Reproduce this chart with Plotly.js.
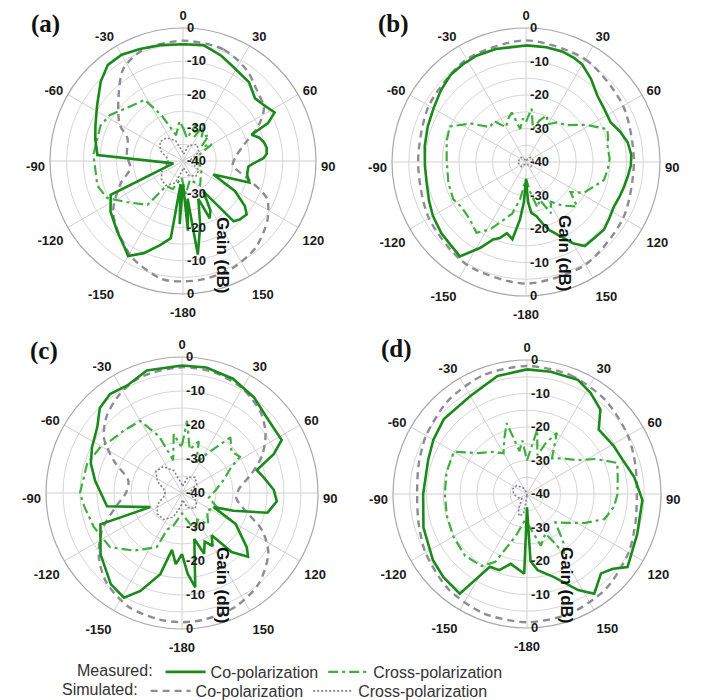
<!DOCTYPE html>
<html><head><meta charset="utf-8">
<script src="https://cdn.plot.ly/plotly-3.0.1.min.js"></script>
<style>html,body{margin:0;padding:0;background:#fff}</style>
</head><body><div id="chart" style="width:701px;height:700px"></div>
<script>
// ---------- axis labels ----------
const angleTicks = [0,30,60,90,120,150,180,210,240,270,300,330];
const angleLabels = ['0','30','60','90','120','150','-180','-150','-120','-90','-60','-30'];
const upperAngleTicks = [0,30,60,300,330];          // labels drawn by the main polar
const lowerAngleTicks = [90,120,150,180,210,240,270]; // labels drawn by a slightly lowered overlay
const ringValues = [-40,-35,-30,-25,-20,-15,-10,-5,0];
const ringLabelsUpper = ['-40','','-30','','-20','','-10','','0'];
const ringLabelsLower = ['','','-30','','-20','','-10','','0'];
const panelLabels = ['(a)','(b)','(c)','(d)'];
const radialTitle = 'Gain (dB)';
const seriesNames = ['Co-polarization','Cross-polarization'];
const legendTitles = ['Measured:','Simulated:'];

// ---------- panel (a) ----------
const aMeasCoTheta = [0,10,20,28,40,49,55,62,66,69,73,77,81,85,88,92,95,102,108,114,120,126,130,136,140,146,151,155,158,165,171,173,176,178,180,183,186,189,195,203,210,214,223,235,245,256,274,284,292,303,314,322,330,339,349];
const aMeasCoGain  = [-4.9,-4.6,-6.3,-7.9,-9.1,-11.3,-10.5,-8.8,-12,-17.9,-16,-15,-14.5,-14.7,-15.8,-18.8,-20.3,-20.3,-19,-30,-22,-17,-15,-15.5,-16.3,-29,-23,-21,-27.7,-20,-11.5,-28.6,-19,-30,-33,-21,-33,-16.5,-13.9,-9.9,-7,-8.6,-11,-13.4,-16,-37,-14.2,-12.8,-11.6,-9.2,-5.6,-3.3,-3.1,-3.9,-4.5];
const aMeasXTheta  = [0,10,20,25,30,38,45,52,60,70,90,110,130,145,160,175,185,200,214,219,234,244,254,265,274,293,302,315,328,335,345,355];
const aMeasXGain   = [-30,-33,-28,-32,-27,-31,-29,-33,-30,-35,-36,-34,-33,-31,-34,-30,-35,-31,-31,-23,-19,-14.6,-13.2,-13.5,-13,-13,-14,-17,-18.3,-25,-32,-28];
const aSimCoTheta  = [0,20,35,45,57,65,75,85,95,105,114,125,140,155,170,180,190,207,220,234,250,262,276,292,300,314,327,340];
const aSimCoGain   = [-3.8,-4.3,-6.6,-9,-11,-15,-21,-24,-25,-20,-12.4,-9,-6,-4.5,-3.9,-3.8,-3.9,-7,-10.5,-14,-20,-24,-23,-22,-18,-13,-7,-4.5];
const aSimXTheta   = [5,20,40,60,75,90,105,120,140,160,175,185,200,215,230,245,258,270,282,295,310,325,340,355];
const aSimXGain    = [-38,-35,-33.5,-34.5,-37,-38.5,-37,-34.5,-34,-35.5,-38,-37,-33,-31,-31.5,-33,-35,-35.5,-35,-32.5,-31,-31.5,-33.5,-37];

// ---------- panel (b) ----------
const bMeasCoTheta = [0,10,18,25,30,38,47,56,65,72,79,86,92,98,104,110,117,124,131,138,145,150,155,161,165,169,174,177,180,183,186,190,195,199,203,208,215,222,230,240,248,258,268,279,290,300,310,319,327,335,345];
const bMeasCoGain  = [-5.2,-5.2,-5.3,-5.8,-6.4,-8.5,-10.9,-11.8,-12.1,-10.5,-9.1,-8.5,-8.7,-9.3,-9.8,-10.2,-10.6,-10,-9.2,-9.5,-9.4,-12,-15.5,-18.5,-21,-23.5,-24.7,-28,-34.8,-28,-22.7,-16.6,-18,-16,-14.9,-11,-5.6,-6.5,-7,-7.9,-8.8,-9.7,-9.8,-9.4,-8.8,-8.1,-6.8,-5.6,-5.3,-5,-5.1];
const bMeasXTheta  = [0,6,12,18,24,30,38,48,58,68,74,79,88,95,103,110,118,124,131,140,148,154,160,166,172,180,189,195,208,215,224,235,243,255,272,285,295,305,314,322,330,338,344,350,356];
const bMeasXGain   = [-28,-24,-30,-27,-24.8,-27,-25,-23.6,-19,-13.8,-14.5,-15.2,-15,-15.5,-16.1,-18.5,-20.4,-24,-19.8,-23,-26,-23,-28,-26,-31,-35,-28.7,-24,-17.2,-14.2,-16,-16.5,-15.6,-16,-16.3,-15.5,-14.9,-20,-25,-24.5,-28,-26,-24.6,-30,-27];
const bSimCoTheta  = [0,30,60,90,120,150,180,210,240,270,300,330];
const bSimCoGain   = [-3.7,-4.6,-6.5,-7.8,-6.5,-4.6,-3.7,-4.6,-6.5,-7.8,-6.5,-4.6];
const bSimXTheta   = [0,45,90,135,180,225,270,315];
const bSimXGain    = [-39.5,-38,-37.5,-38,-39.5,-38,-37.5,-38];

// ---------- panel (c) ----------
const cMeasCoTheta = [0,11,24,37,48,62,67,73,79,88,95,103,109,114,120,130,134,140,145,150,155,160,165,172,176,180,185,190,195,203,209,218,233,249,246,260,278,288,297,308,316,324,333,344];
const cMeasCoGain  = [-2.5,-2.4,-3.2,-4.8,-6.6,-6.8,-10.7,-17,-15.6,-13,-12,-14.2,-24,-29.8,-21.8,-15.1,-13,-17.3,-24.8,-22,-24.2,-21,-26,-12,-16.2,-22,-19,-23,-15.3,-8.7,-4.8,-6,-10,-14.3,-29.8,-17.6,-14.2,-11.8,-10.3,-8.4,-5.2,-4,-4.5,-2.5];
const cMeasXTheta  = [0,4,10,18,25,33,41,50,58,63,72,85,100,112,125,140,150,160,170,180,195,202,205,220,233,249,262,270,287,300,306,318,330,338,345,352,358];
const cMeasXGain   = [-26,-18.7,-27,-24,-30,-26,-18.3,-21,-19.9,-24,-27,-30,-32,-28.9,-31,-28,-31,-28,-32,-34,-30,-28.4,-22.4,-17.9,-13.5,-12.2,-11,-10,-10.8,-12.5,-13.9,-15,-15.5,-22,-30,-22.5,-26];
const cSimCoTheta  = [0,15,30,45,55,65,75,85,95,105,115,125,140,155,170,180,190,205,220,232,245,258,270,283,295,305,315,327,340];
const cSimCoGain   = [-3,-3.3,-4.5,-7,-10,-14,-19,-23,-24,-21,-14,-9,-5,-3,-2.2,-2,-2.2,-3,-5.5,-9,-14,-20,-23.5,-23.8,-18,-12,-8.5,-5.8,-3.8];
const cSimXTheta   = [5,20,40,60,80,100,120,140,160,175,185,200,215,230,245,258,270,282,295,310,325,340,355];
const cSimXGain    = [-38,-35,-34,-35,-37.5,-37.5,-35,-34,-35.5,-38,-36,-32.5,-30.5,-30.5,-32,-34.5,-35,-34.5,-32,-30,-30.5,-33,-37];

// ---------- panel (d) ----------
const dMeasCoTheta = [0,11,24,32,41,48,61,71,81,93,110,126,131,137,146,152,162,172,177,180,182,193,200,207,214,225,235,252,270,289,300,312,330,346];
const dMeasCoGain  = [-2.8,-2.8,-2.7,-4.3,-6.6,-11.2,-10.4,-9.6,-7.6,-5.5,-5,-2.9,-6,-7.6,-4.1,-7.5,-13.9,-17,-20,-36,-16.2,-18.6,-15.8,-15.6,-4.1,-4.8,-5.7,-7.5,-9,-8.8,-7.7,-6.6,-6.2,-3.7];
const dMeasXTheta  = [0,9,15,20,26,35,45,56,63,71,80,90,98,108,117,125,135,143,148,155,165,175,185,195,205,212,225,240,255,270,285,300,310,320,330,338,344,350,355];
const dMeasXGain   = [-30,-20.6,-28,-24,-19.7,-27,-25,-21.9,-17,-11.5,-12.5,-13,-13.7,-15.7,-20.9,-25,-28,-22,-19,-27,-24,-30,-32,-27,-17.7,-14.6,-13.9,-14.6,-15.2,-15.5,-15.1,-14.8,-21,-23.6,-26,-22,-18,-27,-24];
const dSimCoTheta  = [0,20,40,60,75,90,105,120,140,160,180,200,220,240,255,270,285,300,320,340];
const dSimCoGain   = [-1.8,-2.2,-3.5,-5.2,-6.5,-7.2,-6.5,-5,-3.2,-2.1,-1.7,-2.1,-3.2,-5,-6.5,-7.2,-6.5,-5.2,-3.5,-2.2];
const dSimXTheta   = [180,190,200,210,230,250,270,290,310,330,350];
const dSimXGain    = [-39.5,-34,-33,-35,-38,-37,-36,-35.5,-36,-38,-39.5];

// ---------- assemble ----------
const panels = [
  {co:[aMeasCoTheta,aMeasCoGain], x:[aMeasXTheta,aMeasXGain], sco:[aSimCoTheta,aSimCoGain], sx:[aSimXTheta,aSimXGain]},
  {co:[bMeasCoTheta,bMeasCoGain], x:[bMeasXTheta,bMeasXGain], sco:[bSimCoTheta,bSimCoGain], sx:[bSimXTheta,bSimXGain]},
  {co:[cMeasCoTheta,cMeasCoGain], x:[cMeasXTheta,cMeasXGain], sco:[cSimCoTheta,cSimCoGain], sx:[cSimXTheta,cSimXGain]},
  {co:[dMeasCoTheta,dMeasCoGain], x:[dMeasXTheta,dMeasXGain], sco:[dSimCoTheta,dSimCoGain], sx:[dSimXTheta,dSimXGain]}
];
// layout geometry (pixels): centre and outer radius of each polar plot
const geom = [
  {cx:183, cy:161, R:133},
  {cx:526, cy:162, R:134},
  {cx:182, cy:493, R:136},
  {cx:527, cy:494, R:134}
];
const W = 701, H = 700;
const LOWER_ANGLE_SHIFT = 5;   // px: lower angular labels sit slightly lower, as in the original
const NB = '\u00A0';
const closeLoop = a => a.concat([a[0]]);
const labelsFor = keep => angleLabels.map((t, k) => keep.includes(angleTicks[k]) ? t : '');

const COL_CO = '#1a8a1a', COL_X = '#3fae3f', COL_SCO = '#8c8c96', COL_SX = '#80808a';
const tickFont = {family:'Liberation Sans, Arial, sans-serif', size:13, color:'#1a1a1a', weight:'bold'};

const traces = [];
const layout = {
  width: W, height: H,
  margin: {l:0, r:0, t:0, b:0, autoexpand:false},
  paper_bgcolor: '#fff',
  showlegend: true,
  annotations: []
};

panels.forEach((p, i) => {
  const sp = i === 0 ? 'polar' : 'polar' + (i + 1);
  const ovR = 'polar' + (i + 5);   // lower radial tick labels
  const ovA = 'polar' + (i + 9);   // lower angular tick labels
  const first = i === 0;
  traces.push({type:'scatterpolar', mode:'lines', subplot:sp, theta:closeLoop(p.sx[0]), r:closeLoop(p.sx[1]),
    name:seriesNames[1], legend:'legend2', legendrank:2, showlegend:first,
    line:{color:COL_SX, width:1.6, dash:'2px,2px'}, hoverinfo:'skip'});
  traces.push({type:'scatterpolar', mode:'lines', subplot:sp, theta:closeLoop(p.sco[0]), r:closeLoop(p.sco[1]),
    name:seriesNames[0], legend:'legend2', legendrank:1, showlegend:first, line:{shape:'spline', smoothing:0.8,color:COL_SCO, width:2.4, dash:'7px,5px'}, hoverinfo:'skip'});
  traces.push({type:'scatterpolar', mode:'lines', subplot:sp, theta:closeLoop(p.x[0]), r:closeLoop(p.x[1]),
    name:seriesNames[1], legend:'legend', legendrank:2, showlegend:first,
    line:{color:COL_X, width:2.2, dash:'10px,4px,3px,4px'}, hoverinfo:'skip'});
  traces.push({type:'scatterpolar', mode:'lines', subplot:sp, theta:closeLoop(p.co[0]), r:closeLoop(p.co[1]),
    name:seriesNames[0], legend:'legend', legendrank:1, showlegend:first,
    line:{color:COL_CO, width:2.6}, hoverinfo:'skip'});
  traces.push({type:'scatterpolar', mode:'lines', subplot:ovR, theta:[], r:[], showlegend:false, hoverinfo:'skip'});
  traces.push({type:'scatterpolar', mode:'lines', subplot:ovA, theta:[], r:[], showlegend:false, hoverinfo:'skip'});

  const g = geom[i];
  const dom = {x:[(g.cx - g.R)/W, (g.cx + g.R)/W], y:[1 - (g.cy + g.R)/H, 1 - (g.cy - g.R)/H]};
  const domLow = {x:dom.x, y:[1 - (g.cy + LOWER_ANGLE_SHIFT + g.R)/H, 1 - (g.cy + LOWER_ANGLE_SHIFT - g.R)/H]};
  layout[sp] = {
    domain: dom, bgcolor:'rgba(0,0,0,0)',
    angularaxis: {rotation:90, direction:'clockwise', tickmode:'array', tickvals:angleTicks, ticktext:labelsFor(upperAngleTicks),
      showgrid:true, gridcolor:'#cfcfcf', gridwidth:1, showline:true, linecolor:'#a8a8a8', linewidth:1.2,
      ticks:'outside', ticklen:2, tickcolor:'rgba(0,0,0,0)', tickfont:tickFont},
    radialaxis: {range:[-40,0], angle:90, side:'clockwise', tickangle:90, tickmode:'array', tickvals:ringValues,
      ticktext:ringLabelsUpper.map(t => t ? NB + t : t),
      showgrid:true, gridcolor:'#d6d6d6', gridwidth:1, showline:false, ticks:'', tickfont:tickFont, layer:'above traces'}
  };
  layout[ovR] = {
    domain: dom, bgcolor:'rgba(0,0,0,0)',
    angularaxis: {visible:false, rotation:90, direction:'clockwise'},
    radialaxis: {range:[-40,0], angle:-90, side:'counterclockwise', tickangle:-90, tickmode:'array', tickvals:ringValues,
      ticktext:ringLabelsLower.map(t => t ? NB + t : t),
      showgrid:false, showline:false, ticks:'', tickfont:tickFont}
  };
  layout[ovA] = {
    domain: domLow, bgcolor:'rgba(0,0,0,0)',
    angularaxis: {rotation:90, direction:'clockwise', tickmode:'array', tickvals:angleTicks, ticktext:labelsFor(lowerAngleTicks),
      showgrid:false, showline:false, ticks:'outside', ticklen:2, tickcolor:'rgba(0,0,0,0)', tickfont:tickFont},
    radialaxis: {visible:false, range:[-40,0]}
  };
});

const labelPos = [[45,24],[393,24],[44,351],[397,349]];
const gainPos = [[223,255],[565,253],[223,585],[567,585]];
panelLabels.forEach((t, i) => {
  layout.annotations.push({text:t, xref:'paper', yref:'paper', x:labelPos[i][0]/W, y:1 - labelPos[i][1]/H,
    showarrow:false, xanchor:'center', yanchor:'middle',
    font:{family:'Liberation Serif, Times New Roman, serif', size:25, color:'#111', weight:'bold'}});
  layout.annotations.push({text:radialTitle, xref:'paper', yref:'paper', x:gainPos[i][0]/W, y:1 - gainPos[i][1]/H,
    showarrow:false, textangle:90, xanchor:'center', yanchor:'middle',
    font:{family:'Liberation Sans, Arial, sans-serif', size:17, color:'#111', weight:'bold'}});
});

const legFont = {family:'Liberation Sans, Arial, sans-serif', size:16, color:'#333'};
layout.legend = {orientation:'h', x:75/W, xanchor:'left', y:1 - 655/H, yanchor:'top',
  title:{text:legendTitles[0], side:'left', font:legFont}, font:legFont,
  itemwidth:40, bgcolor:'rgba(0,0,0,0)', traceorder:'normal'};
layout.legend2 = {orientation:'h', x:60/W, xanchor:'left', y:1 - 674/H, yanchor:'top',
  title:{text:legendTitles[1], side:'left', font:legFont}, font:legFont,
  itemwidth:40, bgcolor:'rgba(0,0,0,0)', traceorder:'normal'};

Plotly.newPlot('chart', traces, layout, {staticPlot:true});
</script></body></html>
